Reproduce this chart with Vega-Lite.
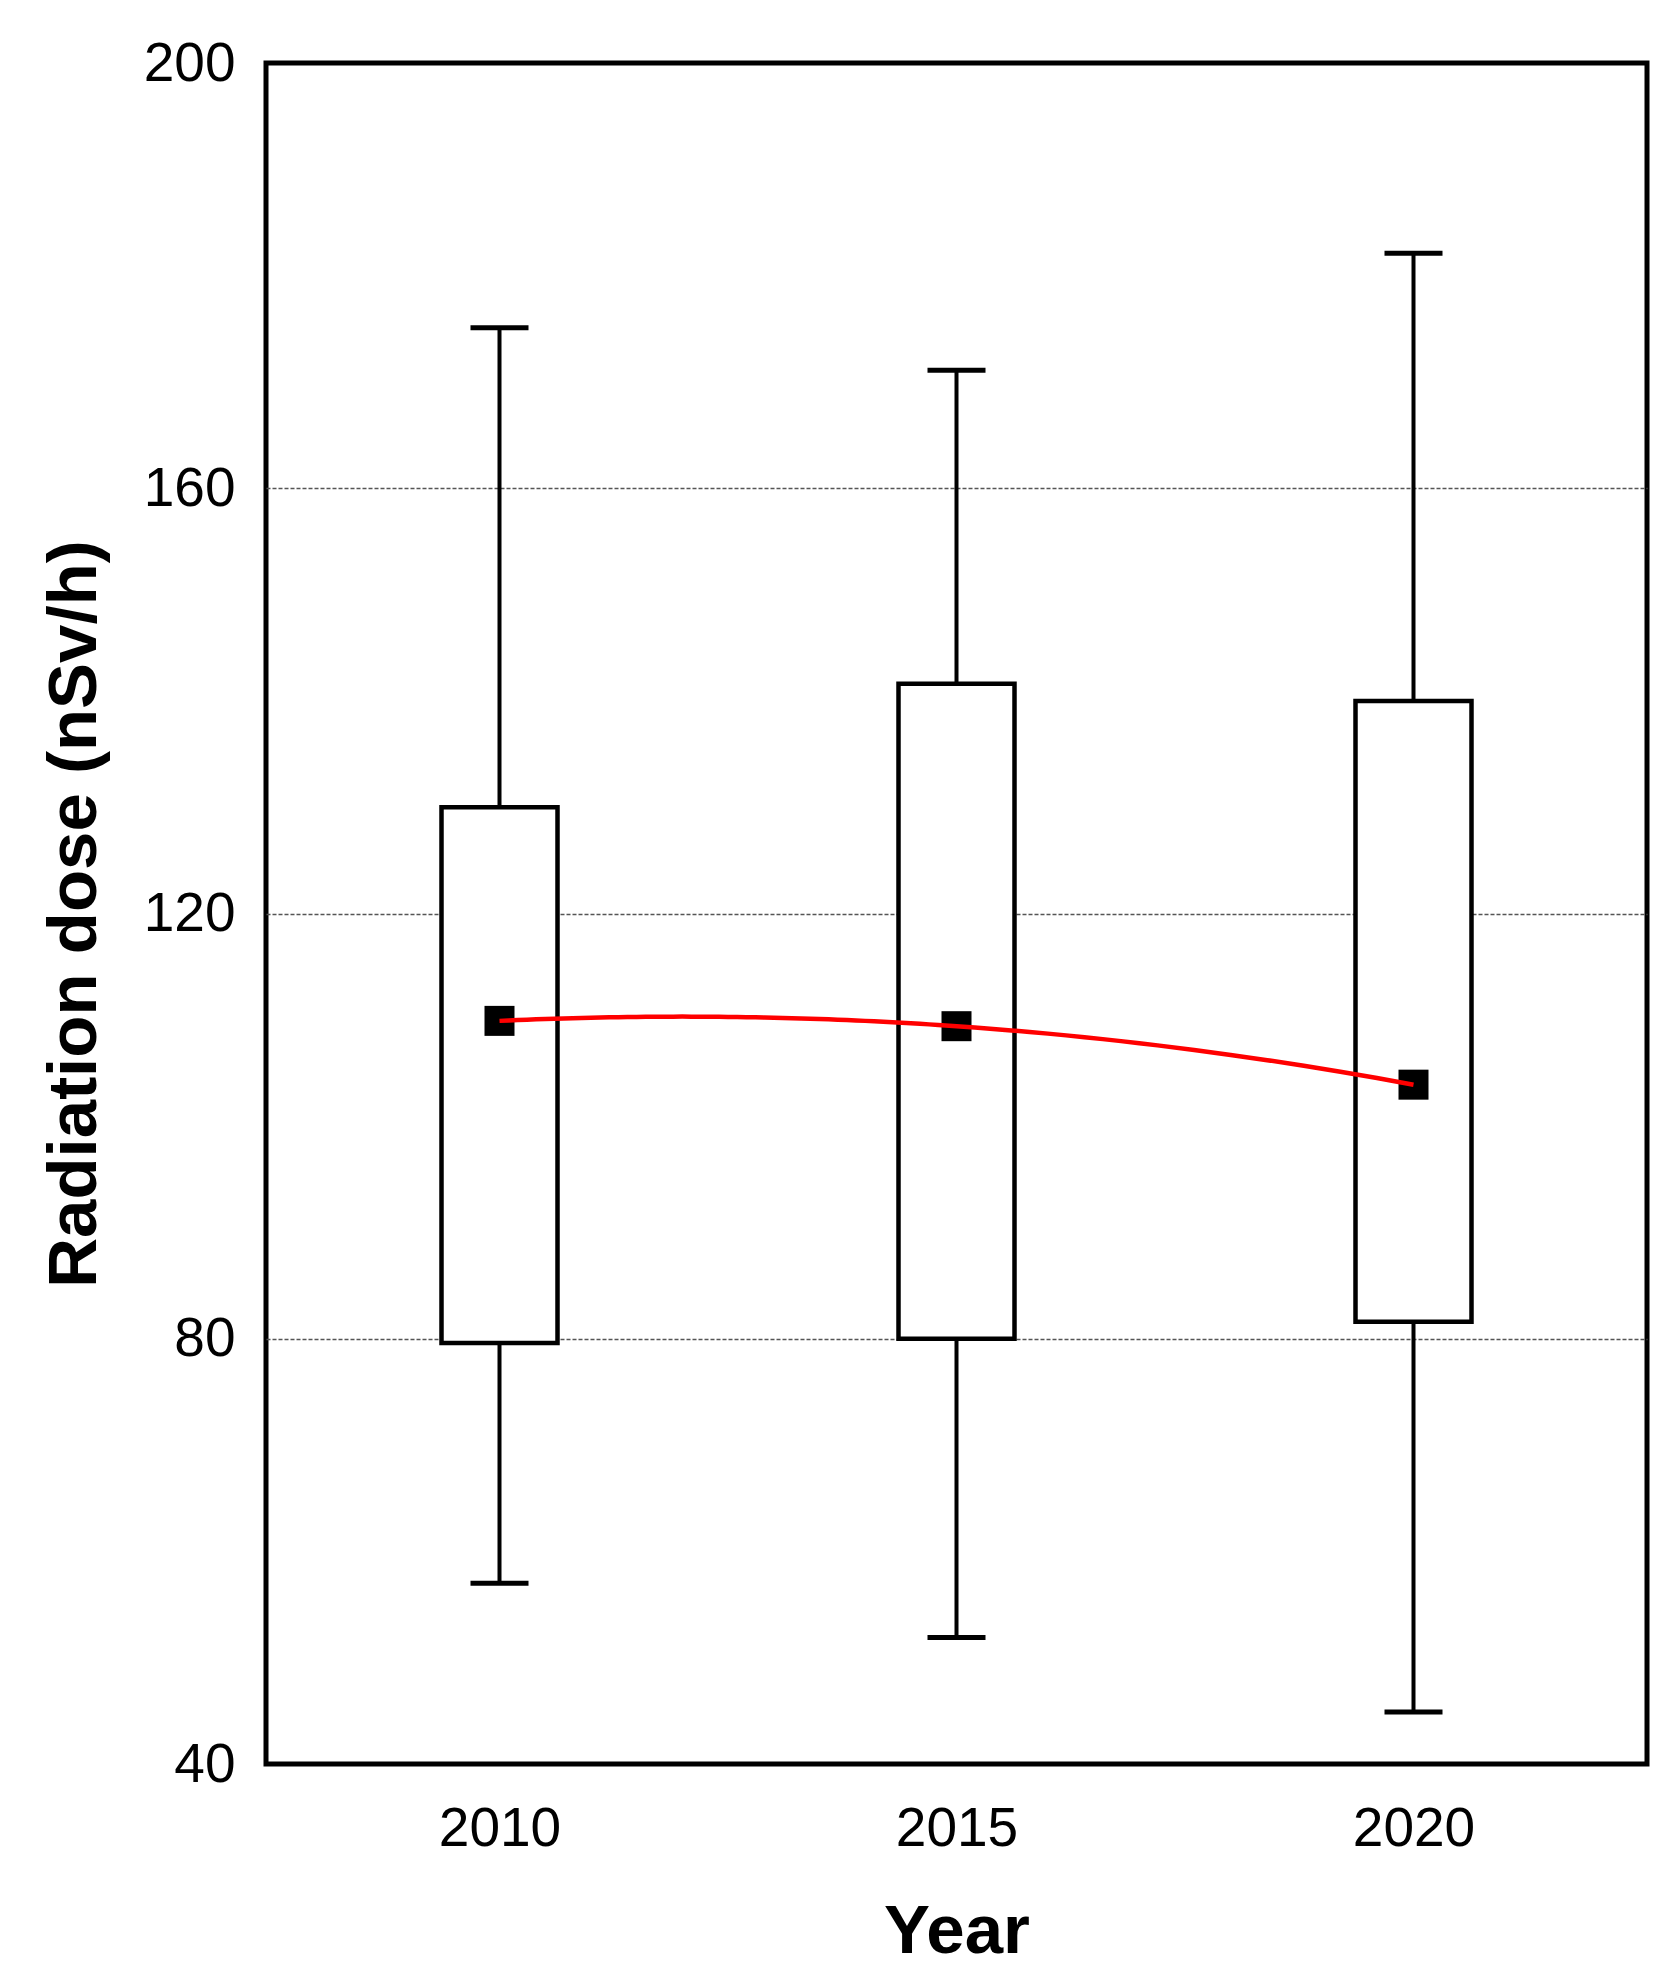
{
  "$schema": "https://vega.github.io/schema/vega-lite/v6.json",
  "width": 1381,
  "height": 1701,
  "autosize": {"type": "none"},
  "padding": {"left": 266, "top": 63, "right": 26, "bottom": 223},
  "background": "white",
  "config": {
    "font": "Liberation Sans",
    "view": {"stroke": "black", "strokeWidth": 5},
    "axis": {
      "labelFont": "Liberation Sans",
      "titleFont": "Liberation Sans",
      "labelFontSize": 55,
      "titleFontSize": 69,
      "titleFontWeight": "bold",
      "labelColor": "black",
      "titleColor": "black",
      "domain": false,
      "ticks": false,
      "tickSize": 0
    }
  },
  "data": {
    "values": [
      {"year": 2010, "min": 57.0, "q1": 79.6, "q3": 130.0, "max": 175.1, "mean": 109.9},
      {"year": 2015, "min": 51.9, "q1": 80.0, "q3": 141.6, "max": 171.1, "mean": 109.4},
      {"year": 2020, "min": 44.9, "q1": 81.6, "q3": 140.0, "max": 182.1, "mean": 103.9}
    ]
  },
  "encoding": {
    "x": {
      "field": "year",
      "type": "quantitative",
      "title": "Year",
      "scale": {"domain": [2007.5, 2022.5], "nice": false, "zero": false},
      "axis": {"values": [2010, 2015, 2020], "format": "d", "grid": false, "labelPadding": 38, "titlePadding": 41}
    }
  },
  "layer": [
    {
      "mark": {"type": "rule", "color": "black", "strokeWidth": 4},
      "encoding": {
        "y": {
          "field": "min",
          "type": "quantitative",
          "title": "Radiation dose (nSv/h)",
          "scale": {"domain": [40, 200], "nice": false, "zero": false},
          "axis": {
            "values": [40, 80, 120, 160, 200],
            "grid": true,
            "gridColor": "#555555",
            "gridDash": [4, 2],
            "gridWidth": 1.5,
            "gridOpacity": {"condition": {"test": "datum.value == 40 || datum.value == 200", "value": 0}, "value": 1},
            "labelPadding": 31,
            "titlePadding": 34
          }
        },
        "y2": {"field": "max"}
      }
    },
    {
      "mark": {"type": "bar", "fill": "white", "stroke": "black", "strokeWidth": 4.5, "size": 116},
      "encoding": {
        "y": {"field": "q1", "type": "quantitative"},
        "y2": {"field": "q3"}
      }
    },
    {
      "mark": {"type": "tick", "orient": "horizontal", "color": "black", "opacity": 1, "size": 58, "thickness": 5},
      "encoding": {"y": {"field": "max", "type": "quantitative"}}
    },
    {
      "mark": {"type": "tick", "orient": "horizontal", "color": "black", "opacity": 1, "size": 58, "thickness": 5},
      "encoding": {"y": {"field": "min", "type": "quantitative"}}
    },
    {
      "mark": {"type": "point", "shape": "square", "filled": true, "color": "black", "size": 900, "opacity": 1},
      "encoding": {"y": {"field": "mean", "type": "quantitative"}}
    },
    {
      "transform": [
        {"regression": "mean", "on": "year", "method": "poly", "order": 2, "extent": [2010, 2020]}
      ],
      "mark": {"type": "line", "color": "#ff0000", "strokeWidth": 4.5},
      "encoding": {"y": {"field": "mean", "type": "quantitative"}}
    }
  ]
}
